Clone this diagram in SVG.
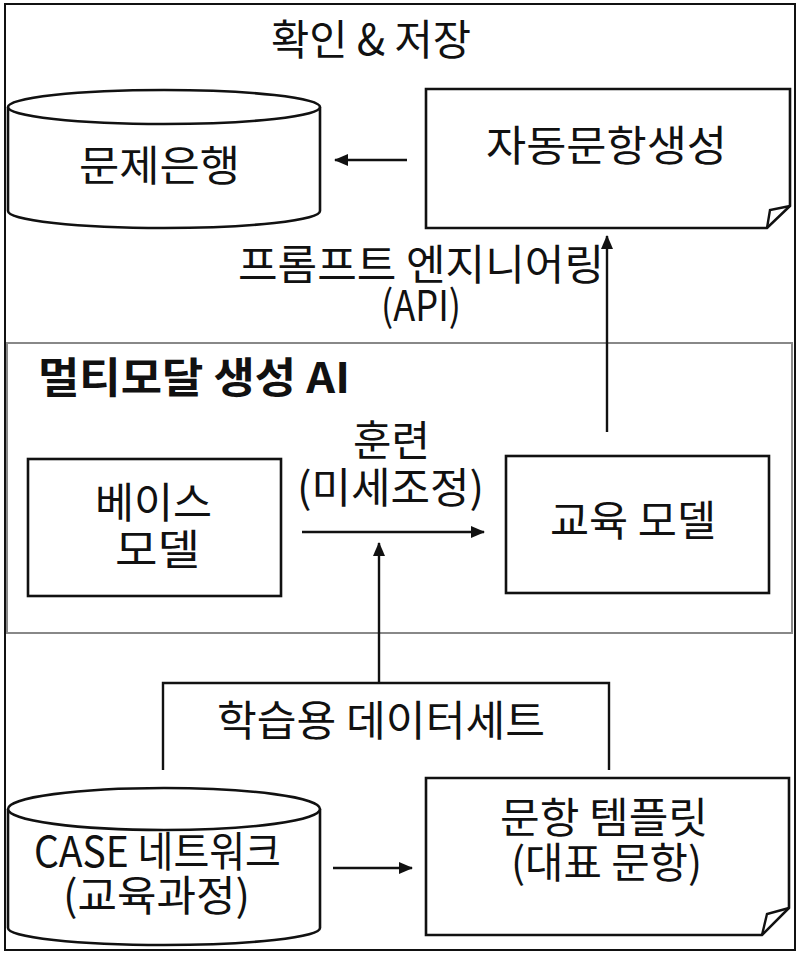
<svg xmlns="http://www.w3.org/2000/svg" width="800" height="955" viewBox="0 0 800 955">
<style>
text{font-family:"Noto Sans CJK KR","Noto Sans",sans-serif;fill:#111;font-size:42px}
.shape{fill:#fff;stroke:#111;stroke-width:2.6}
.line{fill:none;stroke:#111;stroke-width:2.4}
.arrow{fill:none;stroke:#111;stroke-width:2.4;marker-end:url(#ah)}
</style>
<defs>
<marker id="ah" viewBox="0 0 14 12" refX="13" refY="6" markerWidth="14" markerHeight="12" orient="auto" markerUnits="userSpaceOnUse">
<path d="M0,0 L14,6 L0,12 Z" fill="#111"/>
</marker>
</defs>
<rect x="0" y="0" width="800" height="955" fill="#fff"/>
<rect x="5" y="4" width="790" height="946" fill="none" stroke="#111" stroke-width="2"/>
<g id="container-ai">
<rect x="7" y="343" width="785" height="290" fill="none" stroke="#888" stroke-width="2"/>
<text x="38" y="393" font-size="38" font-weight="bold" textLength="312" lengthAdjust="spacingAndGlyphs">멀티모달 생성 AI</text>
</g>
<g id="label-top">
<text x="271" y="55" textLength="200" lengthAdjust="spacingAndGlyphs">확인 &amp; 저장</text>
</g>
<g id="node-bank">
<path class="shape" d="M8,107 V211 A156,17 0 0 0 320,211 V107"/>
<ellipse class="shape" cx="164" cy="107" rx="156" ry="17"/>
<text x="79" y="181" textLength="161" lengthAdjust="spacingAndGlyphs">문제은행</text>
</g>
<g id="node-autogen">
<path class="shape" d="M426,89 H790 V206 L767,228 H426 Z"/>
<path class="line" d="M767,228 L770,210 L790,206" stroke-width="2"/>
<text x="486" y="161" textLength="241" lengthAdjust="spacingAndGlyphs">자동문항생성</text>
</g>
<g id="node-base">
<rect class="shape" x="28" y="459" width="253" height="137"/>
<text x="95" y="518" textLength="117" lengthAdjust="spacingAndGlyphs">베이스</text>
<text x="115" y="565" textLength="85" lengthAdjust="spacingAndGlyphs">모델</text>
</g>
<g id="node-edu">
<rect class="shape" x="506" y="456" width="263" height="137"/>
<text x="550" y="536" font-size="40" textLength="166" lengthAdjust="spacingAndGlyphs">교육 모델</text>
</g>
<g id="node-case">
<path class="shape" d="M8,809 V928 A156,17 0 0 0 320,928 V809"/>
<ellipse class="shape" cx="164" cy="809" rx="156" ry="21"/>
<text x="34" y="867" font-size="38" textLength="247" lengthAdjust="spacingAndGlyphs">CASE 네트워크</text>
<text x="63" y="911" font-size="41" textLength="187" lengthAdjust="spacingAndGlyphs">(교육과정)</text>
</g>
<g id="node-template">
<path class="shape" d="M426,778 H789 V908 L762,935 H426 Z"/>
<path class="line" d="M762,935 L767,914 L789,908" stroke-width="2"/>
<text x="500" y="833" font-size="41" textLength="208" lengthAdjust="spacingAndGlyphs">문항 템플릿</text>
<text x="511" y="878" font-size="41" textLength="191" lengthAdjust="spacingAndGlyphs">(대표 문항)</text>
</g>
<g id="connectors">
<line class="arrow" x1="407" y1="160" x2="335" y2="160"/>
<line class="arrow" x1="607" y1="432" x2="607" y2="236"/>
<text x="238" y="280" font-size="41" textLength="366" lengthAdjust="spacingAndGlyphs">프롬프트 엔지니어링</text>
<text x="381" y="321" font-size="40" textLength="80" lengthAdjust="spacingAndGlyphs">(API)</text>
<line class="arrow" x1="302" y1="532" x2="484" y2="532"/>
<text x="353" y="456" font-size="41" textLength="77" lengthAdjust="spacingAndGlyphs">훈련</text>
<text x="297" y="503" font-size="41" textLength="187" lengthAdjust="spacingAndGlyphs">(미세조정)</text>
<line class="arrow" x1="379" y1="683" x2="379" y2="543"/>
<path class="line" d="M163,770 V683 H609 V770"/>
<text x="217" y="736" font-size="41" textLength="328" lengthAdjust="spacingAndGlyphs">학습용 데이터세트</text>
<line class="arrow" x1="333" y1="868" x2="412" y2="868"/>
</g>
</svg>
